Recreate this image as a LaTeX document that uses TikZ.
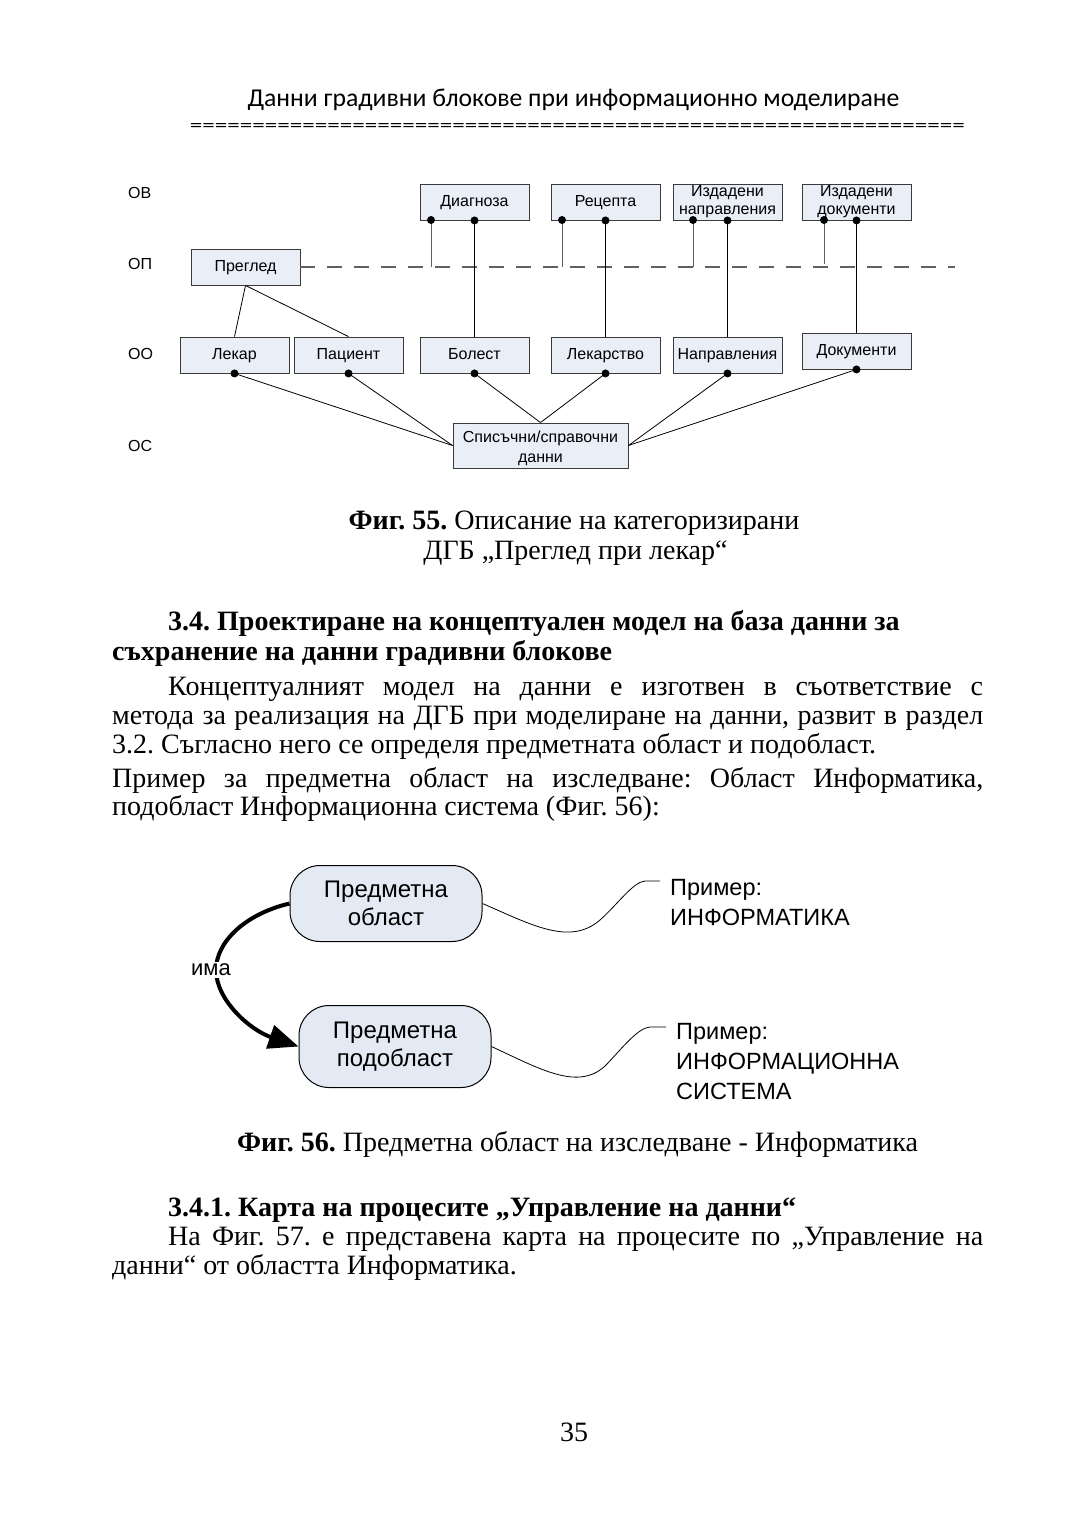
\documentclass[tikz,border=0pt]{standalone}
\usepackage{fontspec}
\setmainfont{Liberation Serif}
\newfontfamily\arialf{Liberation Sans}
\newfontfamily\calib{Carlito}
\usetikzlibrary{arrows.meta}
\definecolor{boxfill}{HTML}{E9EEF7}
\definecolor{boxline}{HTML}{3A3A3A}
\definecolor{lgrey}{HTML}{606060}
\definecolor{ovalfill}{HTML}{E4EAF4}
\frenchspacing
\begin{document}
\begin{tikzpicture}[x=1pt,y=-1pt,
  box/.style={draw=boxline, fill=boxfill, minimum width=109pt, minimum height=36pt, inner sep=0pt, line width=0.9pt, font=\arialf\fontsize{16}{18}\selectfont},
  sbox/.style={box, text height=11.5pt, text depth=3pt},
  lbl/.style={anchor=west, inner sep=0pt, font=\arialf\fontsize{16}{18}\selectfont},
  conn/.style={line width=0.8pt, draw=black},
  gconn/.style={line width=1pt, draw=lgrey},
  dashline/.style={line width=1.2pt, draw=lgrey, dash pattern=on 15pt off 12pt},
  body/.style={anchor=base west, inner sep=0pt, font=\fontsize{28}{29}\selectfont},
  cbody/.style={anchor=base, inner sep=0pt, font=\fontsize{28}{29}\selectfont},
  oval/.style={draw=black, fill=ovalfill, rounded corners=30pt, line width=1pt, align=center, inner sep=0pt, font=\arialf\fontsize{24}{28}\selectfont},
  ex/.style={anchor=base west, inner sep=0pt, font=\arialf\fontsize{23.5}{30}\selectfont},
]
\useasboundingbox[fill=white] (0,0) rectangle (1080,1532);

% header
\node[anchor=base, inner sep=0pt, font=\calib\fontsize{25.7}{28}\selectfont] (hdr) at (573.5,106) {Данни градивни блокове при информационно моделиране};
\node[inner sep=0pt] (eqline) at (577.5,127) {\resizebox{775pt}{8pt}{\calib ==============================================================}};

% level labels
\node[lbl] (ov) at (128,193) {ОВ};
\node[lbl] (op) at (128,264) {ОП};
\node[lbl] (oo) at (128,354) {ОО};
\node[lbl] (os) at (128,446) {ОС};

% boxes
\node[sbox] (diag) at (474.5,202) {Диагноза};
\node[sbox] (rec) at (605.5,202) {Рецепта};
\node[box, align=center] (izn) at (727.5,202) {Издадени\\направления};
\node[box, align=center] (izd) at (856.5,202) {Издадени\\документи};
\node[sbox] (preg) at (245.5,267) {Преглед};
\node[sbox] (lek) at (234.5,355) {Лекар};
\node[sbox] (pac) at (348.5,355) {Пациент};
\node[sbox] (bol) at (474.5,355) {Болест};
\node[sbox] (lks) at (605.5,355) {Лекарство};
\node[sbox] (nap) at (727.5,355) {Направления};
\node[sbox] (dok) at (856.5,351) {Документи};
\node[box, minimum width=175pt, minimum height=45pt, align=center, font=\arialf\fontsize{16}{20}\selectfont] (spis) at (540.5,445.5) {\rule{0pt}{17pt}Списъчни/справочни\\данни};

% dashed line
\coordinate (dend) at (955,267);
\draw[dashline] (preg.east) -- (dend);

% short links to the dashed line
\coordinate (sA) at (431,220); \coordinate (eA) at (431,267);
\coordinate (sB) at (562,220); \coordinate (eB) at (562,267);
\coordinate (sC) at (693,220); \coordinate (eC) at (693,267);
\coordinate (sD) at (824,220); \coordinate (eD) at (824,264);
\draw[gconn] (sA) -- (eA);
\draw[gconn] (sB) -- (eB);
\draw[gconn] (sC) -- (eC);
\draw[gconn] (sD) -- (eD);

% long links
\draw[conn] (diag.south) -- (bol.north);
\draw[conn] (rec.south) -- (lks.north);
\draw[conn] (izn.south) -- (nap.north);
\draw[conn] (izd.south) -- (dok.north);

% Преглед links
\draw[conn] (preg.south) -- (lek.north);
\draw[conn] (preg.south) -- (pac.north);

% to Списъчни
\draw[conn] (lek.south) -- (spis.west);
\draw[conn] (pac.south) -- (spis.west);
\draw[conn] (bol.south) -- (spis.north);
\draw[conn] (lks.south) -- (spis.north);
\draw[conn] (nap.south) -- (spis.east);
\draw[conn] (dok.south) -- (spis.east);

% dots
\foreach \p in {sA,sB,sC,sD,diag.south,rec.south,izn.south,izd.south,lek.south,pac.south,bol.south,lks.south,nap.south,dok.south}
  \fill (\p) circle (4pt);

% caption 55
\node[cbody] (c55a) at (574,529) {\textbf{Фиг. 55.} Описание на категоризирани};
\node[cbody] (c55b) at (575.5,559) {ДГБ „Преглед при лекар“};

% section 3.4
\node[body] (h1) at (168,630) {\textbf{3.4. Проектиране на концептуален модел на база данни за}};
\node[body] (h2) at (112,660) {\textbf{съхранение на данни градивни блокове}};
\node[body] (p1) at (168,695) {\makebox[815pt][s]{Концептуалният модел на данни е изготвен в съответствие с}};
\node[body] (p2) at (112,724) {\makebox[871pt][s]{метода за реализация на ДГБ при моделиране на данни, развит в раздел}};
\node[body] (p3) at (112,753) {3.2. Съгласно него се определя предметната област и подобласт.};
\node[body] (p4) at (112,787) {\makebox[871pt][s]{Пример за предметна област на изследване: Област Информатика,}};
\node[body] (p5) at (112,815) {подобласт Информационна система (Фиг. 56):};

% figure 56
\node[oval, minimum width=192pt, minimum height=76pt] (po) at (386,903.5) {Предметна\\област};
\node[oval, minimum width=192pt, minimum height=82pt] (pp) at (395,1046.5) {Предметна\\подобласт};
\draw[line width=4pt, -{Triangle[length=30pt,width=24pt]}] (po.west) .. controls (245,914) and (216,942) .. (216,970) .. controls (216,1000) and (250,1030) .. (pp.west);
\node[fill=white, inner sep=2pt, font=\arialf\fontsize{22}{24}\selectfont] (ima) at (211,970) {има};

\coordinate (w1) at (660,881);
\coordinate (w2) at (666,1027);
\draw[line width=0.8pt] (po.east) .. controls (532,925) and (570,946) .. (600,920) .. controls (618,904) and (633,882) .. (645,881) -- (w1);
\draw[line width=0.8pt] (pp.east) .. controls (542,1070) and (580,1092) .. (607,1064) .. controls (624,1046) and (638,1028) .. (650,1027) -- (w2);

\node[ex] (e1a) at (670,895) {Пример:};
\node[ex] (e1b) at (670,925) {ИНФОРМАТИКА};
\node[ex] (e2a) at (676,1039) {Пример:};
\node[ex] (e2b) at (676,1069) {ИНФОРМАЦИОННА};
\node[ex] (e2c) at (676,1099) {СИСТЕМА};

% caption 56
\node[cbody] (c56) at (577.5,1151) {\textbf{Фиг. 56.} Предметна област на изследване - Информатика};

% section 3.4.1
\node[body] (h3) at (168,1216) {\textbf{3.4.1. Карта на процесите „Управление на данни“}};
\node[body] (q1) at (168,1245) {\makebox[815pt][s]{На Фиг. 57. е представена карта на процесите по „Управление на}};
\node[body] (q2) at (112,1274) {данни“ от областта Информатика.};

\node[cbody] (pg) at (574,1441) {35};
\end{tikzpicture}
\end{document}
